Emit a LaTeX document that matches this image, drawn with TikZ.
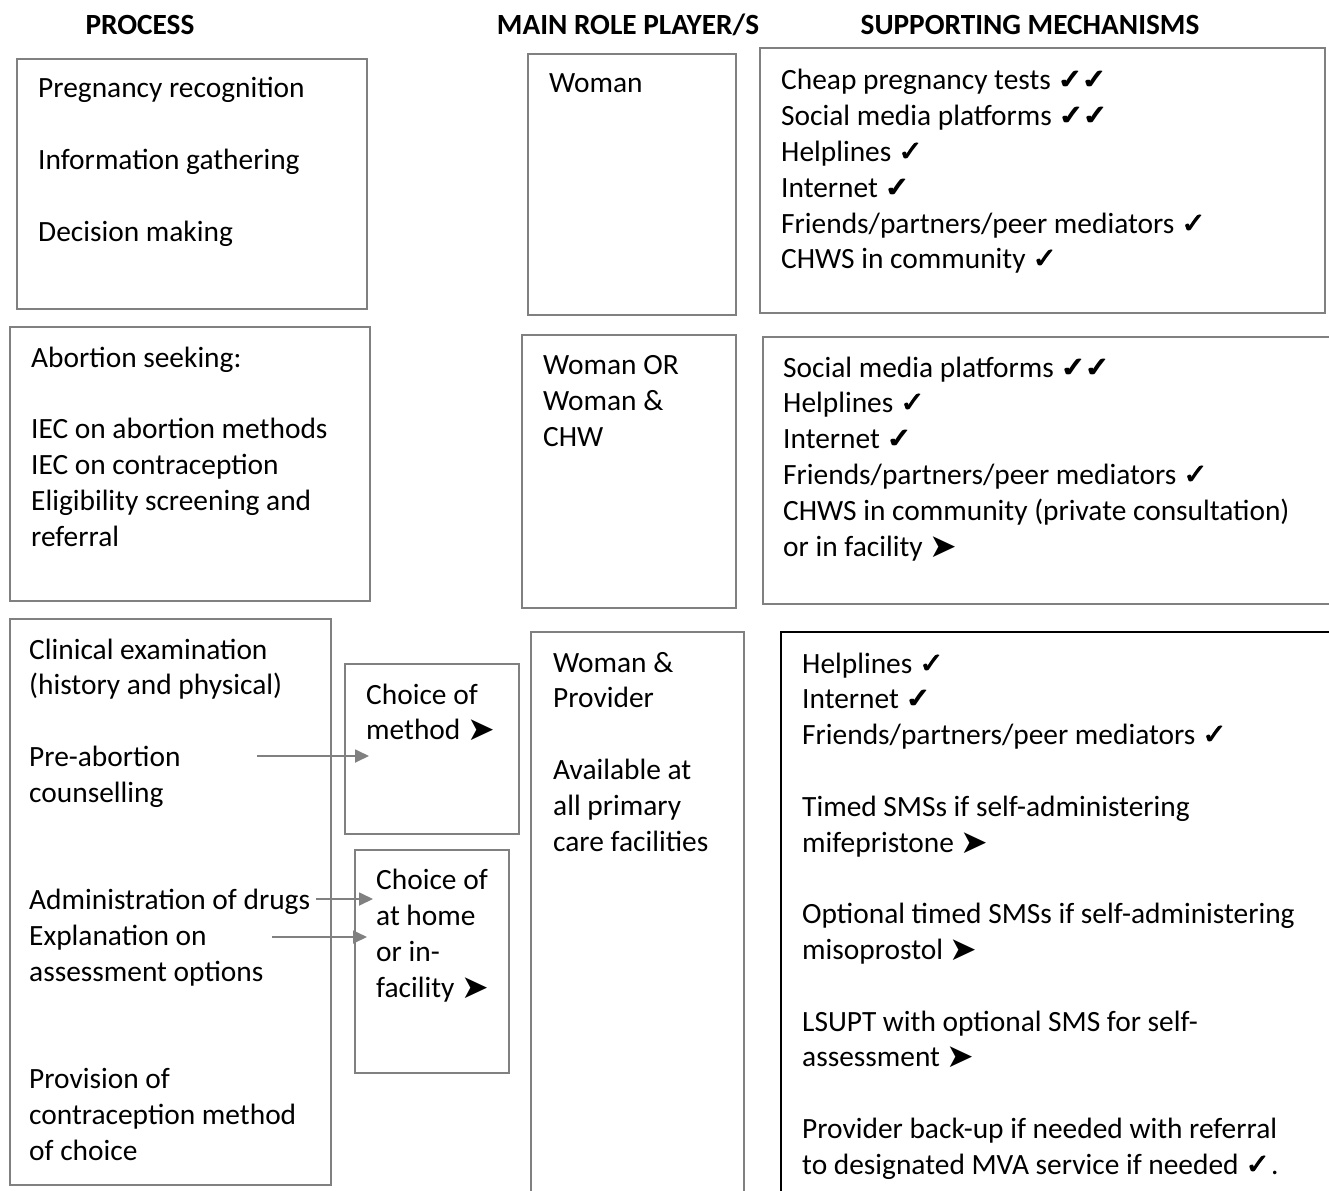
\documentclass[tikz,border=0pt]{standalone}
\usepackage{fontspec}
\setmainfont{Carlito}
\newfontfamily\symfont{DejaVu Sans}
\usetikzlibrary{arrows.meta}
% heavy tick: the glyph set three times with a small shift
\newcommand{\hvtick}{\makebox[0pt][l]{✓}\kern0.8pt\makebox[0pt][l]{✓}\kern0.8pt✓}
\newcommand{\ck}{{\symfont\fontsize{29}{36}\selectfont\hvtick}}
\newcommand{\ckk}{{\symfont\fontsize{29}{36}\selectfont\hvtick\kern-2pt\hvtick}}
\newcommand{\nx}{{\symfont\fontsize{33}{36}\selectfont\raisebox{-1pt}{➤}}}
\definecolor{boxgray}{RGB}{128,128,128}
\tikzset{
  txt/.style={anchor=base west, inner sep=0pt, font=\fontsize{29.4}{36}\selectfont},
  hdr/.style={anchor=base, inner sep=0pt, font=\fontsize{29.3}{32}\selectfont\bfseries},
  panel/.style={draw=boxgray, line width=1.8pt},
  darkpanel/.style={draw=black, line width=1.8pt},
  link/.style={draw=boxgray, line width=1.8pt, -{Triangle[length=14pt,width=13pt]}}
}
\begin{document}
\begin{tikzpicture}[x=1pt,y=-1pt]
\useasboundingbox (0,0) rectangle (1329,1190);

% column headings
\node[hdr] (h1) at (140,35) {PROCESS};
\node[hdr] (h2) at (628,35) {MAIN ROLE PLAYER/S};
\node[hdr] (h3) at (1030,35) {SUPPORTING MECHANISMS};

% row 1 frames
\draw[panel] (17,59) rectangle (367,309);
\draw[panel] (528,54) rectangle (736,315);
\draw[panel] (760,48) rectangle (1325,313);

% row 2 frames
\draw[panel] (10,327) rectangle (370,601);
\draw[panel] (522,335) rectangle (736,608);
\draw[panel] (763,337) rectangle (1345,604);

% row 3 frames
\draw[panel] (10,619) rectangle (331,1185);
\draw[panel] (345,664) rectangle (519,834);
\draw[panel] (355,850) rectangle (509,1073);
\draw[panel] (531,632) rectangle (744,1210);
\draw[darkpanel] (781,632) rectangle (1345,1210);

% row 1 texts
\foreach \t [count=\i] in {Pregnancy recognition,,Information gathering,,Decision making}
  \node[txt] (pa\i) at (38,{98+36*(\i-1)}) {\t};
\node[txt] (ra1) at (549,93) {Woman};
\foreach \t [count=\i] in {Cheap pregnancy tests \ckk,Social media platforms \ckk,Helplines \ck,Internet \ck,Friends/partners/peer mediators \ck,CHWS in community \ck}
  \node[txt] (sa\i) at (781,{90+35.8*(\i-1)}) {\t};

% row 2 texts
\foreach \t [count=\i] in {Abortion seeking:,,IEC on abortion methods,IEC on contraception,Eligibility screening and,referral}
  \node[txt] (pb\i) at (31,{367+35.8*(\i-1)}) {\t};
\foreach \t [count=\i] in {Woman OR,Woman \&,CHW}
  \node[txt] (rb\i) at (543,{374+36*(\i-1)}) {\t};
\foreach \t [count=\i] in {Social media platforms \ckk,Helplines \ck,Internet \ck,Friends/partners/peer mediators \ck,CHWS in community (private consultation),or in facility \nx}
  \node[txt] (sb\i) at (783,{377+35.8*(\i-1)}) {\t};

% row 3 texts
\foreach \t [count=\i] in {Clinical examination,(history and physical),,Pre-abortion,counselling,,,Administration of drugs,Explanation on,assessment options,,,Provision of,contraception method,of choice}
  \node[txt] (pc\i) at (29,{659+35.8*(\i-1)}) {\t};
\foreach \t [count=\i] in {Choice of,method \nx}
  \node[txt] (cm\i) at (366,{704+35.5*(\i-1)}) {\t};
\foreach \t [count=\i] in {Choice of,at home,or in-,facility \nx}
  \node[txt] (ch\i) at (376,{889+36*(\i-1)}) {\t};
\foreach \t [count=\i] in {Woman \&,Provider,,Available at,all primary,care facilities}
  \node[txt] (rc\i) at (553,{672+35.8*(\i-1)}) {\t};
\foreach \t [count=\i] in {Helplines \ck,Internet \ck,Friends/partners/peer mediators \ck,,Timed SMSs if self-administering,mifepristone \nx,,Optional timed SMSs if self-administering,misoprostol \nx,,LSUPT with optional SMS for self-,assessment \nx,,Provider back-up if needed with referral,to designated MVA service if needed \ck.}
  \node[txt] (sc\i) at (802,{673+35.8*(\i-1)}) {\t};

% arrows into the choice frames
\coordinate (a1s) at (257,756);
\coordinate (a1e) at (369,756);
\coordinate (a2s) at (316,899);
\coordinate (a2e) at (373,899);
\coordinate (a3s) at (272,937);
\coordinate (a3e) at (367,937);
\draw[link] (a1s) -- (a1e);
\draw[link] (a2s) -- (a2e);
\draw[link] (a3s) -- (a3e);
\end{tikzpicture}
\end{document}
